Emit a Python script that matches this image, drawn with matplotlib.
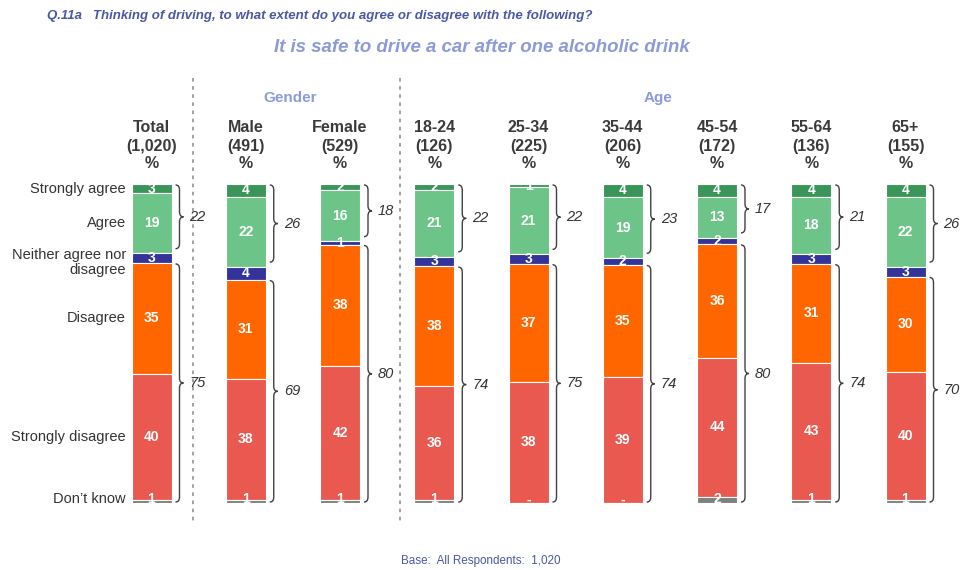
#!/usr/bin/env python

import numpy as np
import matplotlib
matplotlib.use('Agg')
from matplotlib import pyplot as plt
from matplotlib.path import Path
from matplotlib.patches import PathPatch

groups = ['Total', 'Male', 'Female', '18-24', '25-34', '35-44', '45-54', '55-64', '65+']
bases = ['1,020', '491', '529', '126', '225', '206', '172', '136', '155']
answers = ['Strongly agree', 'Agree', 'Neither agree nor\ndisagree', 'Disagree',
           'Strongly disagree', 'Don\u2019t know']
strongly_agree = [3, 4, 2, 2, 1, 4, 4, 4, 4]
agree = [19, 22, 16, 21, 21, 19, 13, 18, 22]
neither = [3, 4, 1, 3, 3, 2, 2, 3, 3]
disagree = [35, 31, 38, 38, 37, 35, 36, 31, 30]
strongly_disagree = [40, 38, 42, 36, 38, 39, 44, 43, 40]
dont_know = [1, 1, 1, 1, 0, 0, 2, 1, 1]
net_agree = [22, 26, 18, 22, 22, 23, 17, 21, 26]
net_disagree = [75, 69, 80, 74, 75, 74, 80, 74, 70]

colors = ['#3a9558', '#6dc488', '#333399', '#ff6600', '#e9594f', '#808080']

W, H = 962, 570
# pixel geometry of the plotting frame
X0, XS = 151.5, 94.25   # centre of first bar, spacing between bars
Y0, YS = 184.0, 3.19    # top of the bars, pixels per percent
PX = 1.0 / XS           # one pixel in x data units
PY = 1.0 / YS           # one pixel in y data units


def brace(ax, x0, y0, y1, w, r):
    xm = x0 + w / 2
    ym = (y0 + y1) / 2
    verts = [(x0, y0), (xm, y0), (xm, y0 + r),
             (xm, ym - r), (xm, ym), (x0 + w, ym),
             (xm, ym), (xm, ym + r),
             (xm, y1 - r), (xm, y1), (x0, y1)]
    codes = [Path.MOVETO, Path.CURVE3, Path.CURVE3,
             Path.LINETO, Path.CURVE3, Path.CURVE3,
             Path.CURVE3, Path.CURVE3,
             Path.LINETO, Path.CURVE3, Path.CURVE3]
    ax.add_patch(PathPatch(Path(verts, codes), fill=False, edgecolor='#404040', lw=1.0))


def MakePlot():
    plt.rcParams['font.family'] = ['Liberation Sans', 'DejaVu Sans']
    fig = plt.figure(figsize=(W / 100, H / 100), dpi=100)
    ax = fig.add_axes([0, 0, 1, 1])
    ax.set_xlim(-X0 / XS, (W - X0) / XS)
    ax.set_ylim((H - Y0) / YS, -Y0 / YS)
    ax.axis('off')

    data = np.array([strongly_agree, agree, neither, disagree, strongly_disagree, dont_know], dtype=float)
    scaled = data / data.sum(axis=0) * 100
    x = np.arange(len(groups))
    bw = 40 * PX

    cum = np.zeros(len(groups))
    for k in range(len(answers)):
        ax.bar(x, scaled[k], bottom=cum, width=bw, color=colors[k],
               edgecolor='white', linewidth=0.8)
        for i in range(len(groups)):
            v = data[k, i]
            lab = '-' if v == 0 else '%d' % v
            yc = cum[i] + scaled[k, i] / 2
            if k == len(answers) - 1:
                yc = 98.9
            ax.text(x[i], yc, lab, ha='center', va='center', color='white',
                    fontsize=10, fontweight='bold')
        # row labels at the left of the Total bar
        ly = cum[0] + scaled[k, 0] / 2
        if '\n' in answers[k]:
            ly += 1.3
        if k == len(answers) - 1:
            ly = 98.6
        ax.text(-0.27, ly, answers[k], ha='right', va='center',
                fontsize=10.5, color='#333333', linespacing=1.1)
        cum += scaled[k]

    # braces with nets
    top_agree = scaled[0] + scaled[1]
    top_dis = top_agree + scaled[2]
    bx = x + bw / 2 + 4 * PX
    for i in range(len(groups)):
        brace(ax, bx[i], 0.3, top_agree[i] - 1.5, 8 * PX, 5 * PY)
        ax.text(bx[i] + 14 * PX, (0.3 + top_agree[i] - 1.5) / 2, '%d' % net_agree[i],
                ha='left', va='center', fontsize=10.5, style='italic', color='#333333')
        brace(ax, bx[i], top_dis[i] + 0.3, 99.7, 8 * PX, 5 * PY)
        ax.text(bx[i] + 14 * PX, (top_dis[i] + 0.3 + 99.7) / 2, '%d' % net_disagree[i],
                ha='left', va='center', fontsize=10.5, style='italic', color='#333333')

    # column headers
    for i in range(len(groups)):
        ax.text(x[i], (146 - Y0) / YS, '%s\n(%s)\n%%' % (groups[i], bases[i]),
                ha='center', va='center', fontsize=11.5, fontweight='bold',
                color='#3a3a3a', linespacing=1.25)

    # dotted separators
    for sx in [(193 - X0) / XS, (400 - X0) / XS]:
        ax.plot([sx, sx], [(78 - Y0) / YS, (524 - Y0) / YS], color='#9a9a9a',
                lw=1.3, linestyle=(0, (2, 2.5)))

    fig.text(290 / W, 1 - 98 / H, 'Gender', ha='center', va='center', fontsize=11,
             fontweight='bold', color='#8c9ad8')
    fig.text(658 / W, 1 - 98 / H, 'Age', ha='center', va='center', fontsize=11,
             fontweight='bold', color='#8c9ad8')

    fig.text(47 / W, 1 - 16 / H,
             'Q.11a   Thinking of driving, to what extent do you agree or disagree with the following?',
             ha='left', va='center', fontsize=9.5, fontweight='bold', style='italic', color='#4a58a4')
    fig.text(482 / W, 1 - 47 / H, 'It is safe to drive a car after one alcoholic drink',
             ha='center', va='center', fontsize=13.4, fontweight='bold', style='italic',
             color='#8c9ad8')
    fig.text(481 / W, 1 - 561 / H, 'Base:  All Respondents:  1,020', ha='center', va='center',
             fontsize=8.4, color='#4a58a4', family=['Liberation Sans Narrow', 'Liberation Sans'])

    fig.savefig('out.png', dpi=100)


def main():
    MakePlot()


if __name__ == '__main__':
    main()
